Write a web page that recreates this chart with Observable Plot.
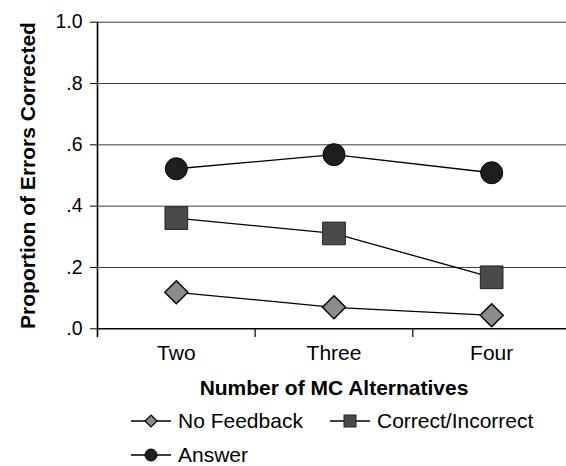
<!DOCTYPE html>
<html>
<head>
<meta charset="utf-8">
<script src="https://cdn.jsdelivr.net/npm/d3@7"></script>
<script src="https://cdn.jsdelivr.net/npm/@observablehq/plot@0.6"></script>
<style>
  html, body { margin: 0; padding: 0; background: #fff; overflow: hidden; }
  #wrap { width: 566px; font-family: "Liberation Sans", Arial, sans-serif; color: #000; }
  #wrap > svg { display: block; }
  #legend { position: relative; width: 566px; height: 64px; }
  .item { position: absolute; display: flex; align-items: center; font-size: 21px; line-height: 22px; white-space: nowrap; }
  .item svg { margin-right: 7px; }
</style>
</head>
<body>
<div id="wrap"></div>
<script>
const categories = ["Two", "Three", "Four"];
const seriesNames = ["No Feedback", "Correct/Incorrect", "Answer"];
const noFeedback = [0.119, 0.070, 0.044];
const correctIncorrect = [0.361, 0.311, 0.168];
const answer = [0.522, 0.568, 0.509];
const yTicks = [0, 0.2, 0.4, 0.6, 0.8, 1.0];
const yTickLabels = [".0", ".2", ".4", ".6", ".8", "1.0"];
const xTitle = "Number of MC Alternatives";
const yTitle = "Proportion of Errors Corrected";

const seriesValues = [noFeedback, correctIncorrect, answer];
const seriesStyle = [
  {symbol: "diamond2", r: 10.4, fill: "#8c8c8c", stroke: "#000", strokeWidth: 1.4},
  {symbol: "square", r: 12.8, fill: "#4a4a4a", stroke: "#222", strokeWidth: 1},
  {symbol: "circle", r: 11, fill: "#1e1e1e", stroke: "#000", strokeWidth: 1}
];

const data = [];
seriesNames.forEach((s, k) => {
  seriesValues[k].forEach((v, i) => data.push({series: s, i, v}));
});
const boundaries = categories.map((_, i) => i - 0.5);
const catIdx = categories.map((_, i) => i);

const marks = [
  Plot.ruleY(yTicks.filter(d => d > 0), {stroke: "#3a3a3a", strokeWidth: 1}),
  Plot.ruleY([0], {stroke: "#000", strokeWidth: 1.4}),
  Plot.ruleX(boundaries.slice(1), {y1: 0, y2: -0.028, stroke: "#000", strokeWidth: 1.2}),
  Plot.ruleX([boundaries[0]], {y1: -0.028, y2: 1, stroke: "#000", strokeWidth: 1.6}),
  Plot.axisY({ticks: yTicks, tickFormat: (d) => yTickLabels[yTicks.indexOf(d)], tickSize: 7, tickPadding: 8, fontSize: 19.5, label: null}),
  Plot.axisX({ticks: catIdx, tickFormat: (d) => categories[d], tickSize: 0, tickPadding: 16, fontSize: 21, label: null}),
  Plot.line(data, {x: "i", y: "v", z: "series", stroke: "#000", strokeWidth: 1.3}),
];
seriesNames.forEach((s, k) => {
  const st = seriesStyle[k];
  marks.push(Plot.dot(data.filter(d => d.series === s), {x: "i", y: "v", symbol: () => st.symbol, r: st.r, fill: st.fill, stroke: st.stroke, strokeWidth: st.strokeWidth}));
});
marks.push(Plot.text([yTitle], {frameAnchor: "left", textAnchor: "middle", lineAnchor: "middle", rotate: -90, dx: -69, fontWeight: "bold", fontSize: 21}));
marks.push(Plot.text([xTitle], {frameAnchor: "bottom", lineAnchor: "middle", dy: 59, fontWeight: "bold", fontSize: 21}));

const chart = Plot.plot({
  width: 566,
  height: 400,
  marginTop: 21.7,
  marginBottom: 71.7,
  marginLeft: 97,
  marginRight: -4,
  x: {type: "linear", domain: [-0.5, categories.length - 0.5], axis: null},
  y: {domain: [0, 1], axis: null},
  symbol: {type: "identity"},
  style: {fontFamily: "'Liberation Sans', Arial, sans-serif", fontSize: "20px", color: "#000", background: "#fff", overflow: "hidden"},
  marks
});
const wrap = document.getElementById("wrap");
wrap.appendChild(chart);

// Legend
const legend = document.createElement("div");
legend.id = "legend";
const legendPos = [{left: 131, top: 10}, {left: 330, top: 10}, {left: 131, top: 44}];
const legendSym = [
  '<path d="M20,2 L26,8 L20,14 L14,8 Z" fill="#8c8c8c" stroke="#000" stroke-width="1.2"/>',
  '<rect x="14" y="2" width="12" height="12" fill="#4a4a4a" stroke="#222" stroke-width="1"/>',
  '<circle cx="20" cy="8" r="6" fill="#1e1e1e" stroke="#000"/>'
];
seriesNames.forEach((s, k) => {
  const it = document.createElement("div");
  it.className = "item";
  it.style.left = legendPos[k].left + "px";
  it.style.top = legendPos[k].top + "px";
  it.innerHTML = '<svg width="40" height="16"><line x1="0" y1="8" x2="40" y2="8" stroke="#000" stroke-width="1.5"/>' + legendSym[k] + '</svg><span>' + s + '</span>';
  legend.appendChild(it);
});
wrap.appendChild(legend);
</script>
</body>
</html>
